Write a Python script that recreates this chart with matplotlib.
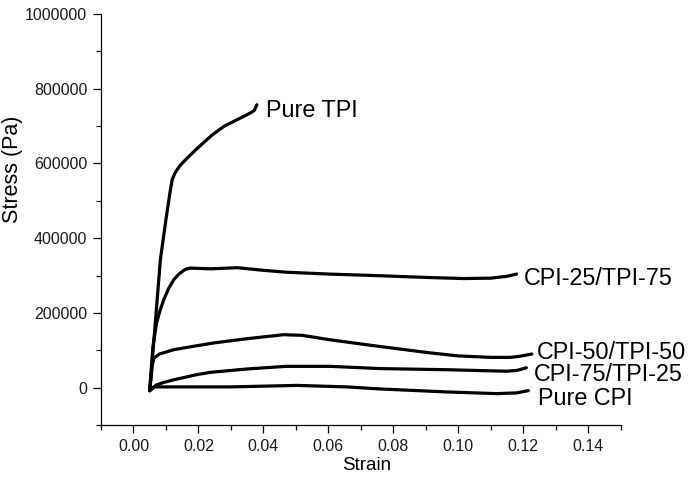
import matplotlib
matplotlib.use("Agg")
import matplotlib.pyplot as plt
from matplotlib.ticker import MultipleLocator

plt.rcParams['font.family'] = ['Liberation Sans', 'DejaVu Sans']

# ---- data (strain, stress in Pa) ----
tpi_x = [0.0050, 0.0068, 0.0083, 0.0100, 0.0112, 0.0119, 0.0127, 0.0134, 0.0145,
         0.0155, 0.0172, 0.0191, 0.0215, 0.0242, 0.0278, 0.0319, 0.0360, 0.0372, 0.0380]
tpi_y = [-8000, 182000, 344000, 450000, 520000, 556000, 573000, 583000, 596000,
         605000, 620000, 636000, 655000, 676000, 699000, 717000, 735000, 742000, 757000]

c25_x = [0.0050, 0.0060, 0.0071, 0.0082, 0.0093, 0.0108, 0.0124, 0.0140, 0.0155,
         0.0165, 0.0175, 0.0237, 0.0320, 0.0400, 0.0470, 0.0600, 0.0760, 0.0900,
         0.1016, 0.1100, 0.1150, 0.1180]
c25_y = [-8000, 110000, 173000, 207000, 235000, 265000, 289000, 304000, 314000,
         318000, 320000, 318000, 321000, 314000, 309000, 304000, 299500, 295000,
         292000, 293000, 298000, 304000]

c50_x = [0.0050, 0.0058, 0.0063, 0.0080, 0.0124, 0.0180, 0.0250, 0.0350, 0.0462,
         0.0520, 0.0606, 0.0760, 0.0914, 0.1000, 0.1100, 0.1160, 0.1190, 0.1227]
c50_y = [-8000, 60000, 79000, 90000, 101600, 110000, 120000, 131000, 141700,
         140000, 128000, 110000, 93000, 85000, 81000, 81000, 84000, 90000]

c75_x = [0.0050, 0.0070, 0.0093, 0.0124, 0.0196, 0.0237, 0.0350, 0.0470, 0.0606,
         0.0760, 0.0965, 0.1100, 0.1150, 0.1180, 0.1210]
c75_y = [-8000, 7000, 14000, 21000, 35000, 41000, 50000, 57000, 57000,
         51000, 48000, 45000, 44000, 46000, 53000]

cpi_x = [0.0050, 0.0065, 0.0093, 0.0298, 0.0504, 0.0657, 0.0760, 0.0965, 0.1120,
         0.1180, 0.1216]
cpi_y = [-8000, 2000, 2000, 2000, 6000, 2000, -3500, -11500, -16000, -14000, -8000]

labels = ["Pure TPI", "CPI-25/TPI-75", "CPI-50/TPI-50", "CPI-75/TPI-25", "Pure CPI"]
label_x = [0.0408, 0.1203, 0.1243, 0.1232, 0.1245]
label_y = [724600, 275400, 77500, 16800, -45500]

xticks = [0.00, 0.02, 0.04, 0.06, 0.08, 0.10, 0.12, 0.14]
yticks = [0, 200000, 400000, 600000, 800000, 1000000]

# ---- figure ----
fig = plt.figure(figsize=(6.9, 4.79), dpi=100)
ax = fig.add_axes([0.1464, 0.1127, 0.7529, 0.8581])

series = [(tpi_x, tpi_y), (c25_x, c25_y), (c50_x, c50_y), (c75_x, c75_y), (cpi_x, cpi_y)]
for sx, sy in series:
    ax.plot(sx, sy, color='black', lw=2.3, solid_joinstyle='round', solid_capstyle='round')

for lab, lx, ly in zip(labels, label_x, label_y):
    ax.text(lx, ly, lab, fontsize=16.8, ha='left', va='baseline', color='black')

ax.set_xlim(-0.01, 0.15)
ax.set_ylim(-100000, 1000000)
ax.set_xticks(xticks)
ax.set_xticklabels([f"{v:.2f}" for v in xticks])
ax.set_yticks(yticks)
ax.set_yticklabels([str(v) for v in yticks])
ax.xaxis.set_minor_locator(MultipleLocator(0.01))
ax.yaxis.set_minor_locator(MultipleLocator(100000))

for s in ['top', 'right']:
    ax.spines[s].set_visible(False)
for s in ['left', 'bottom']:
    ax.spines[s].set_linewidth(0.9)

ax.tick_params(which='major', direction='out', length=6, width=0.9, labelsize=11.5,
               colors='black', labelcolor='#1a1a1a', pad=4)
ax.tick_params(which='minor', direction='out', length=3.5, width=0.9, colors='black')

ax.set_xlabel("Strain", fontsize=13.5)
ax.set_ylabel("Stress (Pa)", fontsize=15.5)
ax.xaxis.set_label_coords(0.511, -0.077)
ax.yaxis.set_label_coords(-0.15, 0.623)

fig.savefig("out.png", dpi=100)
